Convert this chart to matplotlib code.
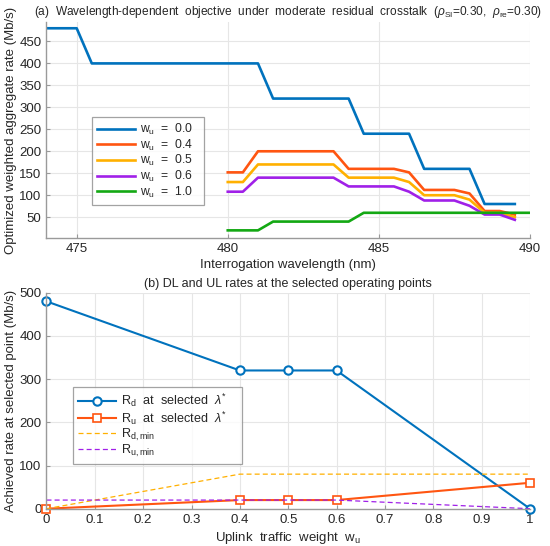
import numpy as np
import matplotlib
matplotlib.use('Agg')
import matplotlib.pyplot as plt

plt.rcParams['font.family'] = ['Liberation Sans', 'DejaVu Sans']
plt.rcParams['mathtext.fontset'] = 'custom'
plt.rcParams['mathtext.rm'] = 'Liberation Sans'
plt.rcParams['mathtext.it'] = 'Liberation Sans:italic'
plt.rcParams['font.size'] = 8.5

# ---- data: panel (a) ----
lam_full = np.arange(474.0, 490.0, 0.5)      # 474 ... 489.5
lam_sub = np.arange(480.0, 490.0, 0.5)       # 480 ... 489.5
lam_green = np.arange(480.0, 490.5, 0.5)     # 480 ... 490

J_w00 = [480, 480, 480, 400, 400, 400, 400, 400, 400, 400, 400, 400, 400, 400, 400,
         320, 320, 320, 320, 320, 320, 240, 240, 240, 240, 160, 160, 160, 160, 80, 80, 80]
J_w04 = [152, 152, 200, 200, 200, 200, 200, 200, 160, 160, 160, 160, 152, 112, 112, 112,
         104, 64, 64, 56]
J_w05 = [130, 130, 170, 170, 170, 170, 170, 170, 140, 140, 140, 140, 130, 100, 100, 100,
         90, 60, 60, 50]
J_w06 = [108, 108, 140, 140, 140, 140, 140, 140, 120, 120, 120, 120, 108, 88, 88, 88,
         76, 56, 56, 44]
J_w10 = [20, 20, 20, 40, 40, 40, 40, 40, 40, 60, 60, 60, 60, 60, 60, 60, 60, 60, 60, 60, 60]

# ---- data: panel (b) ----
wu = [0, 0.4, 0.5, 0.6, 1.0]
Rd_sel = [480, 320, 320, 320, 0]
Ru_sel = [0, 20, 20, 20, 60]
Rd_min = [0, 80, 80, 80, 80]
Ru_min = [20, 20, 20, 20, 0]

c_blue = '#0072BD'
c_orange = '#FF5511'
c_yellow = '#FFB000'
c_purple = '#A020E8'
c_green = '#13A813'
axcol = '#9a9a9a'
txtcol = '#262626'


def style(ax):
    ax.grid(True, color='#e6e6e6', linewidth=0.8)
    ax.set_axisbelow(True)
    for s in ['top', 'right']:
        ax.spines[s].set_visible(False)
    for s in ['left', 'bottom']:
        ax.spines[s].set_color(axcol)
        ax.spines[s].set_linewidth(1.0)
    ax.tick_params(direction='in', length=3, color=axcol, labelcolor=txtcol,
                   labelsize=9.5, width=0.8)


fig = plt.figure(figsize=(5.5, 5.46), dpi=100)
ax1 = fig.add_axes([0.0845, 0.5636, 0.879, 0.3967])
ax2 = fig.add_axes([0.0845, 0.0683, 0.879, 0.3956])

# panel (a)
lw = 1.9
ax1.plot(lam_full, J_w00, color=c_blue, lw=lw, label=r'w$_\mathrm{u}$  =  0.0   ')
ax1.plot(lam_sub, J_w04, color=c_orange, lw=lw, label=r'w$_\mathrm{u}$  =  0.4   ')
ax1.plot(lam_sub, J_w05, color=c_yellow, lw=lw, label=r'w$_\mathrm{u}$  =  0.5   ')
ax1.plot(lam_sub, J_w06, color=c_purple, lw=lw, label=r'w$_\mathrm{u}$  =  0.6   ')
ax1.plot(lam_green, J_w10, color=c_green, lw=lw, label=r'w$_\mathrm{u}$  =  1.0   ')
ax1.set_xlim(474, 490)
ax1.set_ylim(2, 495)
ax1.set_xticks([475, 480, 485, 490])
ax1.set_yticks(np.arange(50, 451, 50))
style(ax1)
ax1.set_xlabel('Interrogation wavelength (nm)', fontsize=9.5, color=txtcol, labelpad=3)
ax1.set_ylabel('Optimized weighted aggregate rate (Mb/s)', fontsize=9.5, color=txtcol, labelpad=2)
ax1.set_title(r'(a)  Wavelength-dependent  objective  under  moderate  residual  crosstalk  '
              r'($\rho_{\mathrm{SI}}$=0.30,  $\rho_{\mathrm{re}}$=0.30)',
              fontsize=8.6, color=txtcol, pad=5)
leg1 = ax1.legend(loc='upper left', bbox_to_anchor=(0.095, 0.56), fontsize=8.7,
                  frameon=True, fancybox=False, edgecolor='#8c8c8c', handlelength=3.1,
                  borderpad=0.4, labelspacing=0.05, handletextpad=0.4, borderaxespad=0)
leg1.get_frame().set_linewidth(0.9)
for t in leg1.get_texts():
    t.set_color(txtcol)

# panel (b)
ax2.plot(wu, Rd_sel, color=c_blue, lw=1.5, marker='o', ms=6, mfc='white', mew=1.5,
         label=r'R$_\mathrm{d}$  at  selected  $\lambda^{*}$    ')
ax2.plot(wu, Ru_sel, color=c_orange, lw=1.5, marker='s', ms=5.5, mfc='white', mew=1.2,
         label=r'R$_\mathrm{u}$  at  selected  $\lambda^{*}$    ')
ax2.plot(wu, Rd_min, color=c_yellow, lw=0.9, ls=(0, (4, 2.5)), label=r'R$_\mathrm{d,min}$')
ax2.plot(wu, Ru_min, color=c_purple, lw=0.9, ls=(0, (4, 2.5)), label=r'R$_\mathrm{u,min}$')
ax2.set_xlim(0, 1)
ax2.set_ylim(0, 500)
ax2.set_xticks(np.arange(0, 1.01, 0.1))
ax2.set_xticklabels(['0', '0.1', '0.2', '0.3', '0.4', '0.5', '0.6', '0.7', '0.8', '0.9', '1'])
ax2.set_yticks(np.arange(0, 501, 100))
style(ax2)
for ln in ax2.lines:
    ln.set_clip_on(False)
ax2.set_xlabel(r'Uplink  traffic  weight  w$_\mathrm{u}$', fontsize=9.5, color=txtcol, labelpad=3)
ax2.set_ylabel('Achieved rate at selected point (Mb/s)', fontsize=9.5, color=txtcol, labelpad=2)
ax2.set_title('(b) DL and UL rates at the selected operating points', fontsize=9,
              color=txtcol, pad=4)
leg2 = ax2.legend(loc='upper left', bbox_to_anchor=(0.054, 0.563), fontsize=9.1,
                  frameon=True, fancybox=False, edgecolor='#8c8c8c', handlelength=3.0,
                  borderpad=0.4, labelspacing=0.0, handletextpad=0.4, borderaxespad=0)
leg2.get_frame().set_linewidth(0.9)
for t in leg2.get_texts():
    t.set_color(txtcol)

fig.savefig('out.png', dpi=100)
